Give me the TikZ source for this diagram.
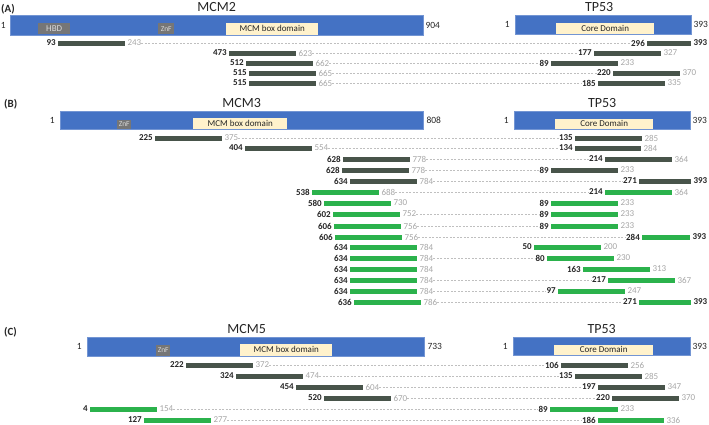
\documentclass[tikz,border=0pt]{standalone}
\usepackage{fontspec}
\setmainfont{Carlito}
\usetikzlibrary{positioning}
\definecolor{protblue}{RGB}{68,114,196}
\definecolor{domyellow}{RGB}{255,242,204}
\definecolor{domgray}{RGB}{118,118,118}
\definecolor{fragdark}{RGB}{72,84,74}
\definecolor{fraggreen}{RGB}{43,178,76}
\definecolor{numgray}{RGB}{166,166,166}
\definecolor{numdark}{RGB}{38,38,38}
\definecolor{linkgray}{RGB}{191,191,191}

\begin{document}
\begin{tikzpicture}[
        x=1pt, y=-1pt,
        protbar/.style={rectangle, fill=protblue, draw=protblue!75!white, line width=0.3pt,
                        inner sep=0pt, anchor=north west},
        domainbox/.style={rectangle, fill=domyellow, inner sep=0pt, anchor=south west,
                       text=numdark, font=\fontsize{9}{10}\selectfont},
        znf/.style={domainbox, fill=domgray, text=white!85!black, font=\fontsize{7.5}{8}\selectfont},
        protname/.style={inner sep=0pt, text=numdark, font=\fontsize{14}{15}\selectfont},
        panel/.style={inner sep=0pt, anchor=base west, text=numdark, font=\fontsize{11}{12}\selectfont\bfseries},
        protnum/.style={inner sep=0pt, text=numdark, font=\fontsize{9.5}{10}\selectfont},
        frag/.style={rectangle, inner sep=0pt, minimum height=5pt, anchor=west},
        startnum/.style={inner sep=0pt, text=numdark, font=\fontsize{9}{10}\selectfont\bfseries},
        endnum/.style={inner sep=0pt, text=numgray, font=\fontsize{9}{10}\selectfont},
        fullnum/.style={endnum, text=numdark, font=\fontsize{9}{10}\selectfont\bfseries},
        link/.style={draw=linkgray, line width=0.5pt, dash pattern=on 2pt off 1.5pt},
        nolink/.style={draw=none},
    ]
        \useasboundingbox (0,0) rectangle (709,424);

        % (A) MCM2 / TP53
        \node[panel] (pA) at (1,12) {(A)};
        \node[protbar, minimum width=413pt, minimum height=20pt] (mcm2) at (10,15) {};
        \node[znf, minimum width=32pt, minimum height=11pt, font=\fontsize{9}{10}\selectfont] (hbd) at (38,34.5) {HBD};
        \node[znf, minimum width=16pt, minimum height=11pt] (znfA) at (158,34.5) {ZnF};
        \node[domainbox, minimum width=92pt, minimum height=12pt] (boxA) at (226,35) {MCM box domain};
        \node[protbar, minimum width=176pt, minimum height=19pt] (tpA) at (515,15) {};
        \node[domainbox, minimum width=98pt, minimum height=11pt] (coreA) at (556,34) {Core Domain};
        \node[protname, above=3pt of mcm2] {MCM2};
        \node[protname, above=3pt of tpA, xshift=-4pt] {TP53};
        \node[protnum, left=4pt of mcm2] {1};
        \node[protnum, right=2pt of mcm2] {904};
        \node[protnum, left=5pt of tpA] {1};
        \node[protnum, right=2pt of tpA] {393};

        % (B) MCM3 / TP53
        \node[panel] (pB) at (4,107) {(B)};
        \node[protbar, minimum width=363pt, minimum height=18pt] (mcm3) at (60,111) {};
        \node[znf, minimum width=14pt, minimum height=9pt] (znfB) at (117,129) {ZnF};
        \node[domainbox, minimum width=94pt, minimum height=11pt] (boxB) at (193,129) {MCM box domain};
        \node[protbar, minimum width=176pt, minimum height=18pt] (tpB) at (514,111) {};
        \node[domainbox, minimum width=98pt, minimum height=10pt] (coreB) at (555,129) {Core Domain};
        \node[protname, above=3pt of mcm3] {MCM3};
        \node[protname, above=3pt of tpB] {TP53};
        \node[protnum, left=5pt of mcm3] {1};
        \node[protnum, right=3pt of mcm3] {808};
        \node[protnum, left=5pt of tpB] {1};
        \node[protnum, right=2pt of tpB] {393};

        % (C) MCM5 / TP53
        \node[panel] (pC) at (4,335) {(C)};
        \node[protbar, minimum width=337pt, minimum height=19pt] (mcm5) at (87,337) {};
        \node[znf, minimum width=14pt, minimum height=11pt] (znfC) at (156,356) {ZnF};
        \node[domainbox, minimum width=92pt, minimum height=12pt] (boxC) at (240,356) {MCM box domain};
        \node[protbar, minimum width=177pt, minimum height=18pt] (tpC) at (513,337) {};
        \node[domainbox, minimum width=99pt, minimum height=10pt] (coreC) at (554,355) {Core Domain};
        \node[protname, above=3pt of mcm5, xshift=-9pt] {MCM5};
        \node[protname, above=3pt of tpC] {TP53};
        \node[protnum, left=5pt of mcm5] {1};
        \node[protnum, right=3pt of mcm5] {733};
        \node[protnum, left=5pt of tpC] {1};
        \node[protnum, right=2pt of tpC] {393};

        % fragment pairs: y / MCM x / MCM from / to / TP53 x / width / TP53 from / to / colour / end label / link
        \foreach \y/\mx/\ms/\me/\tx/\tw/\ts/\te/\c/\k/\d [count=\r] in {
            43/58/93/243/647/44/296/393/fragdark/fullnum/link,
            53/229/473/623/594/67/177/327/fragdark/endnum/link,
            63/246/512/662/551/67/89/233/fragdark/endnum/link,
            73/249/515/665/613/67/220/370/fragdark/endnum/link,
            83/249/515/665/598/67/185/335/fragdark/endnum/link,
            138/155/225/375/575/67/135/285/fragdark/endnum/link,
            148/245/404/554/575/66/134/284/fragdark/endnum/link,
            159/343/628/778/605/67/214/364/fragdark/endnum/link,
            170/342/628/778/551/67/89/233/fragdark/endnum/link,
            181/350/634/784/639/52/271/393/fragdark/fullnum/link,
            192/312/538/688/605/67/214/364/fraggreen/endnum/link,
            203/324/580/730/551/67/89/233/fraggreen/endnum/nolink,
            214/333/602/752/551/67/89/233/fraggreen/endnum/link,
            226/334/606/756/551/67/89/233/fraggreen/endnum/link,
            237/335/606/756/642/48/284/393/fraggreen/fullnum/link,
            247/350/634/784/534/67/50/200/fraggreen/endnum/nolink,
            258/350/634/784/547/67/80/230/fraggreen/endnum/link,
            269/350/634/784/583/67/163/313/fraggreen/endnum/nolink,
            280/350/634/784/608/67/217/367/fraggreen/endnum/link,
            291/350/634/784/558/67/97/247/fraggreen/endnum/link,
            302/354/636/786/639/52/271/393/fraggreen/fullnum/link,
            365/186/222/372/561/67/106/256/fragdark/endnum/link,
            376/236/324/474/575/67/135/285/fragdark/endnum/link,
            387/296/454/604/598/67/197/347/fragdark/endnum/link,
            398/324/520/670/612/67/220/370/fragdark/endnum/link,
            409/90/4/154/550/68/89/233/fraggreen/endnum/link,
            420/144/127/277/598/66/186/336/fraggreen/endnum/link} {
            \node[frag, fill=\c, minimum width=67pt] (m\r) at (\mx,\y) {};
            \node[startnum, left=2pt of m\r] (ms\r) {\ms};
            \node[endnum, right=2pt of m\r] (me\r) {\me};
            \node[frag, fill=\c, minimum width=\tw pt] (t\r) at (\tx,\y) {};
            \node[startnum, left=2pt of t\r] (ts\r) {\ts};
            \node[\k, right=2pt of t\r] (te\r) {\te};
            \draw[\d] (me\r) -- (ts\r);
        }

    \end{tikzpicture}
\end{document}
